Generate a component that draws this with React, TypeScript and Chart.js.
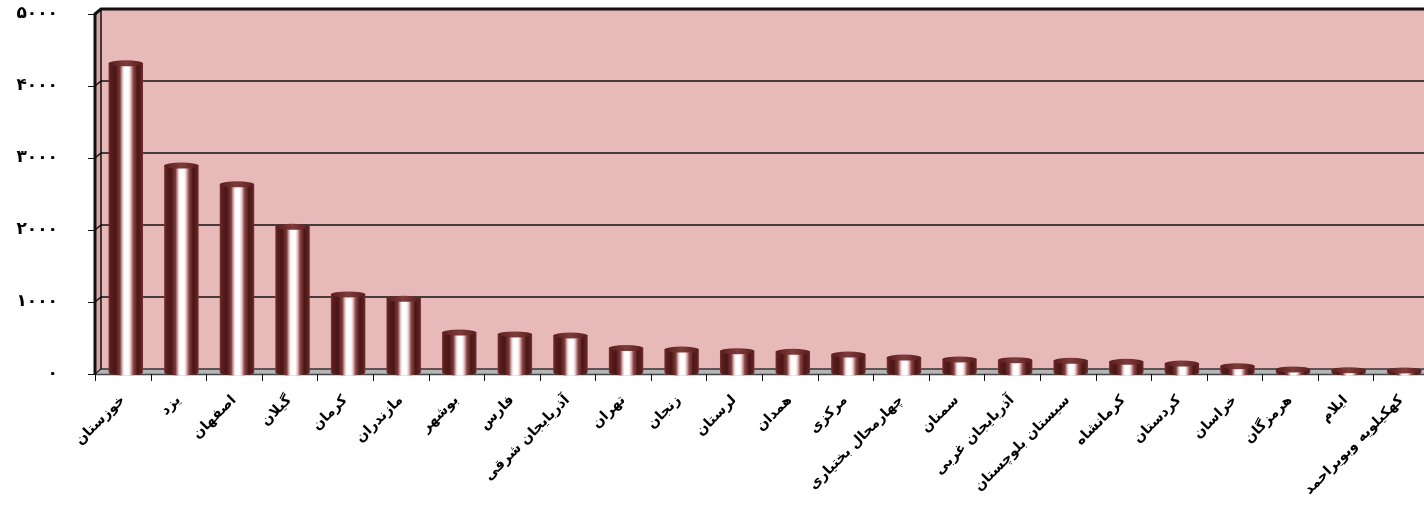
import React, { useEffect, useRef } from 'react';
import { Chart, registerables } from 'chart.js';

Chart.register(...registerables);

const categories = [
  'خوزستان', 'یزد', 'اصفهان', 'گیلان', 'کرمان', 'مازندران', 'بوشهر', 'فارس',
  'آذربایجان شرقی', 'تهران', 'زنجان', 'لرستان', 'همدان', 'مرکزی', 'چهارمحال بختیاری',
  'سمنان', 'آذربایجان غربی', 'سیستان بلوچستان', 'کرمانشاه', 'کردستان', 'خراسان',
  'هرمزگان', 'ایلام', 'کهکیلویه وبویراحمد',
];

const values = [
  4280, 2860, 2600, 2010, 1070, 1010, 540, 515, 500, 325, 305, 282,
  273, 236, 194, 167, 157, 148, 134, 111, 74, 28, 18, 14,
];

const yTickValues = [0, 1000, 2000, 3000, 4000, 5000];

const toFa = (n: number) => String(n).replace(/\d/g, (d) => '۰۱۲۳۴۵۶۷۸۹'[Number(d)]);

const DX = 6;
const DY = -5;

const wallPlugin = {
  id: 'wall3d',
  beforeDatasetsDraw(chart: any) {
    const { ctx, chartArea } = chart;
    const { left: L, top: T, right: R, bottom: B } = chartArea;
    const ys = chart.scales.y;
    ctx.save();
    // back wall
    ctx.fillStyle = '#e8b9b9';
    ctx.fillRect(L + DX, T + DY, R - L - DX, B - T);
    // side wall
    ctx.fillStyle = '#d9a6a6';
    ctx.beginPath();
    ctx.moveTo(L, T);
    ctx.lineTo(L + DX, T + DY);
    ctx.lineTo(L + DX, B + DY);
    ctx.lineTo(L, B);
    ctx.closePath();
    ctx.fill();
    // floor
    ctx.fillStyle = '#b6b6b6';
    ctx.beginPath();
    ctx.moveTo(L, B);
    ctx.lineTo(L + DX, B + DY);
    ctx.lineTo(R, B + DY);
    ctx.lineTo(R, B);
    ctx.closePath();
    ctx.fill();
    // grid lines
    yTickValues.forEach((v) => {
      const y = ys.getPixelForValue(v);
      ctx.lineWidth = v === 5000 ? 3 : 1.5;
      ctx.strokeStyle = v === 0 ? '#333' : '#111';
      ctx.beginPath();
      ctx.moveTo(L, y);
      ctx.lineTo(L + DX, y + DY);
      ctx.lineTo(R, y + DY);
      ctx.stroke();
      // front tick marks
      ctx.lineWidth = 1;
      ctx.strokeStyle = '#111';
      ctx.beginPath();
      ctx.moveTo(L - 7, y + 0.5);
      ctx.lineTo(L, y + 0.5);
      ctx.stroke();
    });
    // back vertical edge
    ctx.lineWidth = 1.5;
    ctx.strokeStyle = '#111';
    ctx.beginPath();
    ctx.moveTo(L + DX, T + DY);
    ctx.lineTo(L + DX, B + DY);
    ctx.stroke();
    // front vertical axis
    ctx.lineWidth = 3;
    ctx.beginPath();
    ctx.moveTo(L, T - 1);
    ctx.lineTo(L, B + 1);
    ctx.stroke();
    // front floor edge / x axis
    ctx.lineWidth = 1.5;
    ctx.strokeStyle = '#444';
    ctx.beginPath();
    ctx.moveTo(L, B + 0.5);
    ctx.lineTo(R, B + 0.5);
    ctx.stroke();
    // x tick marks
    const n = categories.length;
    const cw = (R - L) / n;
    ctx.lineWidth = 1;
    ctx.strokeStyle = '#111';
    for (let i = 0; i <= n; i++) {
      const x = Math.round(L + i * cw) + 0.5;
      ctx.beginPath();
      ctx.moveTo(x, B);
      ctx.lineTo(x, B + 7);
      ctx.stroke();
    }
    ctx.restore();
  },
  afterDatasetsDraw(chart: any) {
    const { ctx } = chart;
    const meta = chart.getDatasetMeta(0);
    ctx.save();
    meta.data.forEach((el: any) => {
      const { x, y, base, width } = el.getProps(['x', 'y', 'base', 'width'], true);
      const cx = x + DX / 2;
      const top = y + DY / 2;
      const bot = base + DY / 2 + 1;
      const w = width;
      const l = cx - w / 2;
      const r = cx + w / 2;
      const ry = 3;
      const g = ctx.createLinearGradient(l, 0, r, 0);
      g.addColorStop(0, '#7a3434');
      g.addColorStop(0.06, '#5a1e1e');
      g.addColorStop(0.2, '#4a1515');
      g.addColorStop(0.33, '#7c3a3a');
      g.addColorStop(0.41, '#e9caca');
      g.addColorStop(0.46, '#ffffff');
      g.addColorStop(0.58, '#ffffff');
      g.addColorStop(0.64, '#e6c4c4');
      g.addColorStop(0.72, '#8a4646');
      g.addColorStop(0.84, '#4c1616');
      g.addColorStop(0.95, '#5c2020');
      g.addColorStop(1, '#7a3434');
      ctx.fillStyle = g;
      ctx.beginPath();
      ctx.moveTo(l, top);
      ctx.lineTo(l, bot);
      ctx.ellipse(cx, bot, w / 2, ry, 0, Math.PI, 0, true);
      ctx.lineTo(r, top);
      ctx.closePath();
      ctx.fill();
      // top cap
      const cg = ctx.createLinearGradient(l, 0, r, 0);
      cg.addColorStop(0, '#5a1c1c');
      cg.addColorStop(0.5, '#7e3c3c');
      cg.addColorStop(1, '#5a1c1c');
      ctx.fillStyle = cg;
      ctx.beginPath();
      ctx.ellipse(cx, top, w / 2, ry, 0, 0, Math.PI * 2);
      ctx.fill();
    });
    ctx.restore();
  },
};

export default function App() {
  const ref = useRef<HTMLCanvasElement | null>(null);
  useEffect(() => {
    if (!ref.current) return;
    const chart = new Chart(ref.current, {
      type: 'bar',
      data: {
        labels: categories,
        datasets: [
          {
            data: values,
            backgroundColor: 'rgba(0,0,0,0)',
            borderWidth: 0,
            barPercentage: 0.62,
            categoryPercentage: 1,
          },
        ],
      },
      options: {
        animation: false,
        responsive: false,
        maintainAspectRatio: false,
        devicePixelRatio: 1,
        layout: { padding: { top: 14, right: 1, left: 0, bottom: 0 } },
        plugins: { legend: { display: false }, tooltip: { enabled: false } },
        scales: {
          x: {
            grid: { display: false },
            border: { display: false },
            afterFit: (s: any) => {
              s.height = 507 - 374;
              s.paddingLeft = 0;
              s.paddingRight = 0;
            },
            ticks: {
              autoSkip: false,
              minRotation: 45,
              maxRotation: 45,
              padding: 10,
              color: '#000',
              font: { family: 'DejaVu Sans', size: 14, weight: 'bold' },
            },
          },
          y: {
            min: 0,
            max: 5000,
            afterFit: (s: any) => {
              s.width = 95;
              s.paddingTop = 0;
              s.paddingBottom = 0;
            },
            afterBuildTicks: (s: any) => {
              s.ticks = yTickValues.map((v) => ({ value: v }));
            },
            grid: { display: false },
            border: { display: false },
            ticks: {
              padding: 29,
              color: '#000',
              font: { family: 'DejaVu Sans', size: 17, weight: 'bold' },
              callback: (v: any) => toFa(Number(v)),
            },
          },
        },
      },
      plugins: [wallPlugin],
    });
    return () => chart.destroy();
  }, []);
  return (
    <div style={{ position: 'fixed', left: 0, top: 0, width: 1424, height: 507, overflow: 'hidden', background: '#fff' }}>
      <canvas ref={ref} width={1430} height={507} style={{ display: 'block' }} />
    </div>
  );
}
